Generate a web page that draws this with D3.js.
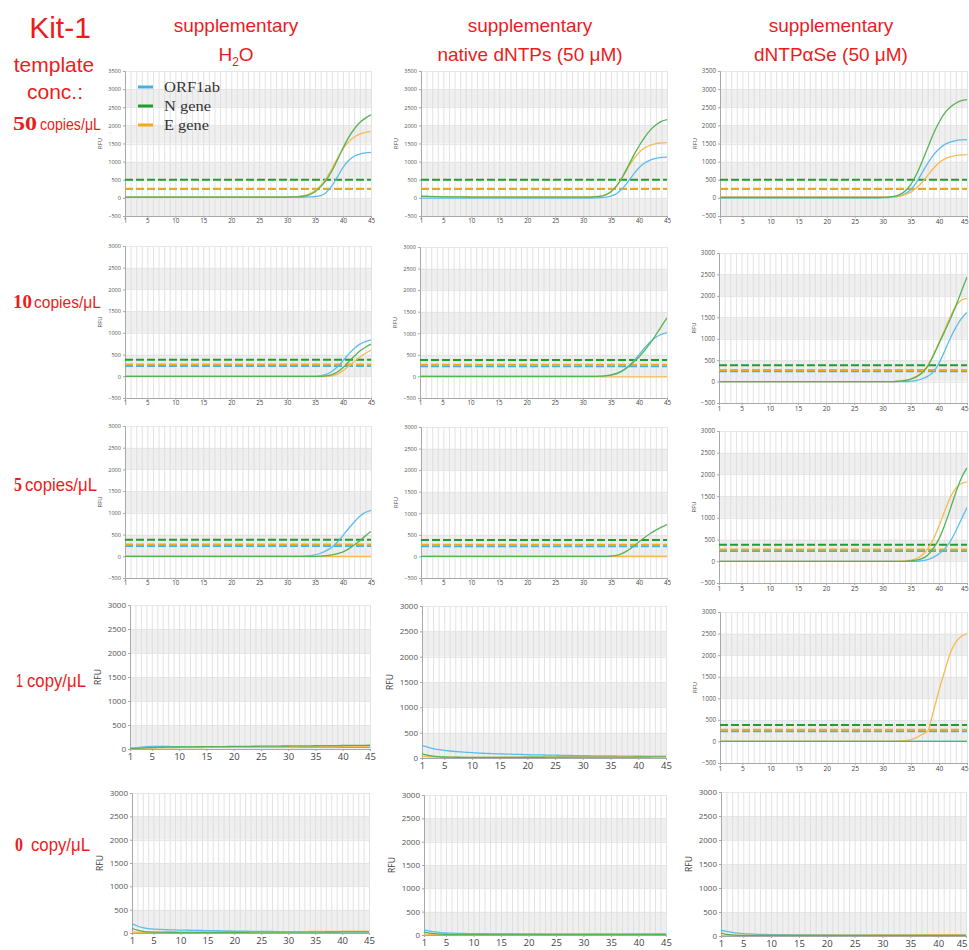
<!DOCTYPE html>
<html><head><meta charset="utf-8">
<script src="https://cdn.jsdelivr.net/npm/d3@7"></script>
<style>body{margin:0;background:#fff}svg{display:block}</style>
</head><body>
<svg id="c" width="969" height="950"></svg>
<script>
// ---------- DATA ----------
const cycles = [1,2,3,4,5,6,7,8,9,10,11,12,13,14,15,16,17,18,19,20,21,22,23,24,25,26,27,28,29,30,31,32,33,34,35,36,37,38,39,40,41,42,43,44,45];
const xTickValues = [1,5,10,15,20,25,30,35,40,45];
const seriesNames = ["ORF1ab","N gene","E gene"];
const columnTitles = [["supplementary","H2O"],["supplementary","native dNTPs (50 μM)"],["supplementary","dNTPαSe (50 μM)"]];
const rowNumbers = ["50","10","5","1","0"];
const rowUnits = ["copies/μL","copies/μL","copies/μL","copy/μL","copy/μL"];
const yDomainTall = [-500, 3500];
const yDomainMid = [-500, 3000];
const yDomainLow = [0, 3000];
const thresholds50 = [245, 500, 255];   // ORF1ab, N gene, E gene
const thresholdsLow = [238, 378, 272];

// Row 1: 50 copies/uL
const h2o50_ORF1ab = [20,20,20,20,20,20,20,20,20,20, 20,20,20,20,20,20,20,20,20,20, 20,20,20,20,20,20,20,20,20,20, 21,22,24,28,38,65,150,330,580,840, 1030,1150,1210,1240,1255];
const h2o50_N = [20,20,20,20,20,20,20,20,20,20, 20,20,20,20,20,20,20,20,20,20, 20,20,20,20,20,20,20,21,22,23, 25,30,45,90,170,310,490,740,1050,1380, 1670,1900,2080,2200,2290];
const h2o50_E = [28,28,28,28,28,28,28,28,28,28, 28,28,28,28,28,28,28,28,28,28, 28,28,28,28,28,28,28,28,29,30, 32,40,60,110,200,340,540,800,1090,1350, 1550,1680,1760,1810,1830];
const nat50_ORF1ab = [-5,-5,-5,-5,-5,-5,-5,-5,-5,-5, -5,-5,-5,-5,-5,-5,-5,-5,-5,-5, -5,-5,-5,-5,-5,-5,-5,-5,-5,-5, -4,-2,5,20,50,120,250,440,650,830, 960,1040,1090,1115,1125];
const nat50_N = [45,40,35,32,30,28,26,25,24,23, 22,22,21,21,20,20,20,20,20,20, 20,20,20,20,20,20,20,20,20,20, 22,26,40,80,170,330,570,860,1160,1430, 1670,1870,2010,2110,2160];
const nat50_E = [50,45,40,36,33,31,30,30,30,30, 30,30,30,30,30,30,30,30,30,30, 30,30,30,30,30,30,30,30,30,30, 30,32,45,90,180,340,560,820,1060,1250, 1380,1450,1495,1515,1525];
const se50_ORF1ab = [0,0,0,0,0,0,0,0,0,0, 0,0,0,0,0,0,0,0,0,0, 0,0,0,0,0,0,0,0,0,5, 10,25,50,110,230,430,690,950,1180,1350, 1470,1540,1580,1598,1605];
const se50_N = [10,10,10,10,10,10,10,10,10,10, 10,10,10,10,10,10,10,10,10,10, 10,10,10,10,10,10,10,10,10,12, 20,40,90,190,370,650,1000,1380,1760,2080, 2330,2500,2610,2680,2710];
const se50_E = [25,25,25,25,25,25,25,25,25,25, 25,25,25,25,25,25,25,25,25,25, 25,25,25,25,25,25,25,25,25,25, 27,35,50,90,160,270,430,620,810,970, 1070,1130,1165,1185,1195];

// Row 2: 10 copies/uL
const h2o10_ORF1ab = [0,0,0,0,0,0,0,0,0,0, 0,0,0,0,0,0,0,0,0,0, 0,0,0,0,0,0,0,0,0,0, 0,0,0,0,0,15,45,110,220,360, 510,640,740,800,840];
const h2o10_N = [0,0,0,0,0,0,0,0,0,0, 0,0,0,0,0,0,0,0,0,0, 0,0,0,0,0,0,0,0,0,0, 0,0,0,0,0,0,10,40,100,200, 330,460,580,670,740];
const h2o10_E = [-5,-5,-5,-5,-5,-5,-5,-5,-5,-5, -5,-5,-5,-5,-5,-5,-5,-5,-5,-5, -5,-5,-5,-5,-5,-5,-5,-5,-5,-5, -5,-5,-5,-5,-5,-5,-5,10,50,130, 230,340,440,530,600];
const nat10_ORF1ab = [0,0,0,0,0,0,0,0,0,0, 0,0,0,0,0,0,0,0,0,0, 0,0,0,0,0,0,0,0,0,0, 0,0,0,10,25,60,120,220,350,500, 660,800,910,975,1010];
const nat10_N = [0,0,0,0,0,0,0,0,0,0, 0,0,0,0,0,0,0,0,0,0, 0,0,0,0,0,0,0,0,0,0, 0,0,5,15,35,70,130,220,330,450, 600,770,960,1160,1360];
const nat10_E = [-10,-10,-10,-10,-10,-10,-10,-10,-10,-10, -10,-10,-10,-10,-10,-10,-10,-10,-10,-10, -10,-10,-10,-10,-10,-10,-10,-10,-10,-10, -10,-10,-10,-10,-10,-10,-10,-10,-10,-10, -10,-10,-10,-10,-10];
const se10_ORF1ab = [0,0,0,0,0,0,0,0,0,0, 0,0,0,0,0,0,0,0,0,0, 0,0,0,0,0,0,0,0,0,0, 0,0,0,0,10,25,60,120,220,420, 700,1000,1260,1470,1610];
const se10_N = [0,0,0,0,0,0,0,0,0,0, 0,0,0,0,0,0,0,0,0,0, 0,0,0,0,0,0,0,0,0,0, 0,0,10,25,55,110,200,350,600,880, 1160,1450,1760,2100,2440];
const se10_E = [0,0,0,0,0,0,0,0,0,0, 0,0,0,0,0,0,0,0,0,0, 0,0,0,0,0,0,0,0,0,0, 0,0,10,28,60,120,220,370,620,900, 1200,1500,1760,1900,1940];

// Row 3: 5 copies/uL
const h2o5_ORF1ab = [0,0,0,0,0,0,0,0,0,0, 0,0,0,0,0,0,0,0,0,0, 0,0,0,0,0,0,0,0,0,0, 0,0,5,15,35,70,130,210,330,480, 640,790,920,1010,1060];
const h2o5_N = [0,0,0,0,0,0,0,0,0,0, 0,0,0,0,0,0,0,0,0,0, 0,0,0,0,0,0,0,0,0,0, 0,0,0,0,0,5,15,30,60,100, 170,260,360,470,570];
const h2o5_E = [-5,-5,-5,-5,-5,-5,-5,-5,-5,-5, -5,-5,-5,-5,-5,-5,-5,-5,-5,-5, -5,-5,-5,-5,-5,-5,-5,-5,-5,-5, -5,-5,-5,-5,-5,-5,-5,-5,-5,-5, -5,-5,-5,-5,-5];
const nat5_ORF1ab = [0,0,0,0,0,0,0,0,0,0, 0,0,0,0,0,0,0,0,0,0, 0,0,0,0,0,0,0,0,0,0, 0,0,0,0,0,0,0,0,0,0, 0,0,0,0,0];
const nat5_N = [0,0,0,0,0,0,0,0,0,0, 0,0,0,0,0,0,0,0,0,0, 0,0,0,0,0,0,0,0,0,0, 0,0,0,0,10,25,70,140,230,340, 440,530,610,680,740];
const nat5_E = [-5,-5,-5,-5,-5,-5,-5,-5,-5,-5, -5,-5,-5,-5,-5,-5,-5,-5,-5,-5, -5,-5,-5,-5,-5,-5,-5,-5,-5,-5, -5,-5,-5,-5,-5,-5,-5,-5,-5,-5, -5,-5,-5,-5,-5];
const se5_ORF1ab = [0,0,0,0,0,0,0,0,0,0, 0,0,0,0,0,0,0,0,0,0, 0,0,0,0,0,0,0,0,0,0, 0,0,0,0,0,0,15,40,90,170, 280,450,690,970,1240];
const se5_N = [0,0,0,0,0,0,0,0,0,0, 0,0,0,0,0,0,0,0,0,0, 0,0,0,0,0,0,0,0,0,0, 0,0,0,0,10,25,60,140,290,510, 820,1190,1580,1920,2150];
const se5_E = [0,0,0,0,0,0,0,0,0,0, 0,0,0,0,0,0,0,0,0,0, 0,0,0,0,0,0,0,0,0,0, 0,0,0,10,25,60,140,280,500,800, 1140,1460,1680,1790,1830];

// Row 4: 1 copy/uL
const h2o1_ORF1ab = [10,25,40,50,55,55,55,52,50,48, 47,46,45,45,44,44,43,43,42,42, 41,41,40,40,40,39,39,38,38,38, 37,37,36,36,36,35,35,35,34,34, 34,33,33,33,32];
const h2o1_N = [10,15,20,25,30,33,36,38,40,42, 43,45,46,47,48,49,50,51,52,53, 54,55,56,57,58,59,60,61,62,63, 64,65,66,67,68,69,70,71,72,73, 74,75,76,77,78];
const h2o1_E = [5,10,15,18,20,22,24,25,26,27, 28,29,30,31,32,33,34,35,36,37, 38,38,39,40,41,42,43,44,45,46, 47,48,48,49,50,51,52,52,53,54, 55,55,56,57,58];
const nat1_ORF1ab = [250,215,185,165,150,138,128,120,112,105, 99,94,89,85,81,78,75,72,69,66, 63,61,59,57,55,53,51,49,47,45, 44,43,42,41,40,39,38,37,36,35, 34,33,32,32,31];
const nat1_N = [80,55,38,27,20,17,15,14,13,13, 13,13,13,13,13,14,14,14,14,15, 15,15,15,16,16,16,16,17,17,17, 17,18,18,18,18,19,19,19,19,20, 20,20,21,21,21];
const nat1_E = [40,30,22,17,14,12,11,11,11,12, 12,13,13,14,14,15,15,16,16,17, 17,18,18,19,19,20,20,21,21,22, 22,23,23,24,25,26,27,28,29,30, 31,32,33,34,35];
const se1_ORF1ab = [0,0,0,0,0,0,0,0,0,0, 0,0,0,0,0,0,0,0,0,0, 0,0,0,0,0,0,0,0,0,0, 0,0,0,0,0,0,0,0,0,0, 0,0,0,0,0];
const se1_N = [0,0,0,0,0,0,0,0,0,0, 0,0,0,0,0,0,0,0,0,0, 0,0,0,0,0,0,0,0,0,0, 0,0,0,0,0,0,0,0,0,0, 0,0,0,0,0];
const se1_E = [0,0,0,0,0,0,0,0,0,0, 0,0,0,0,0,0,0,0,0,0, 0,0,0,0,0,0,0,0,0,0, 0,0,10,20,40,90,160,240,690,1180, 1620,2040,2300,2440,2500];

// Row 5: 0 copy/uL
const h2o0_ORF1ab = [200,150,115,95,85,78,72,68,65,62, 60,58,56,54,52,50,48,46,44,42, 40,38,36,35,34,33,32,31,30,30, 29,29,28,28,28,27,27,27,26,26, 26,26,25,25,25];
const h2o0_N = [100,60,35,25,20,18,17,16,16,15, 15,15,15,15,15,15,15,16,16,16, 16,16,17,17,17,17,18,18,18,18, 19,19,19,20,20,20,21,21,21,22, 22,22,23,23,24];
const h2o0_E = [20,15,12,12,12,12,13,13,14,14, 15,15,16,16,17,17,18,18,19,19, 20,21,21,22,23,24,25,26,27,28, 29,30,31,32,33,34,35,35,36,37, 37,38,39,39,40];
const nat0_ORF1ab = [110,85,65,52,45,40,36,33,31,29, 28,27,26,25,24,23,23,22,22,21, 21,21,20,20,20,20,19,19,19,19, 19,18,18,18,18,18,18,17,17,17, 17,17,17,17,17];
const nat0_N = [60,40,28,20,16,14,13,12,12,12, 12,12,12,12,12,12,12,12,12,12, 12,12,12,12,12,12,12,12,12,12, 12,12,12,12,12,12,12,12,12,12, 12,12,12,12,12];
const nat0_E = [20,15,12,11,11,11,12,12,12,13, 13,13,14,14,14,15,15,16,16,16, 17,17,18,18,19,19,20,20,21,21, 22,22,23,23,24,24,25,26,26,27, 27,28,28,29,30];
const se0_ORF1ab = [120,95,75,60,50,44,39,35,32,30, 28,27,26,25,24,23,22,22,21,21, 21,20,20,20,20,19,19,19,19,19, 18,18,18,18,18,18,18,18,18,18, 18,18,18,18,18];
const se0_N = [60,35,22,15,12,10,10,10,10,10, 10,10,10,10,10,10,10,10,10,10, 10,10,10,10,10,10,10,10,10,10, 10,10,10,10,10,10,10,10,10,10, 10,10,10,10,10];
const se0_E = [10,10,10,10,10,11,11,11,12,12, 12,13,13,14,14,15,15,16,16,17, 17,18,18,19,19,20,20,21,21,22, 22,23,23,24,24,25,25,26,26,27, 27,28,28,29,30];

// ---------- assemble ----------
const panelSeries = [
  [[h2o50_ORF1ab,h2o50_N,h2o50_E],[nat50_ORF1ab,nat50_N,nat50_E],[se50_ORF1ab,se50_N,se50_E]],
  [[h2o10_ORF1ab,h2o10_N,h2o10_E],[nat10_ORF1ab,nat10_N,nat10_E],[se10_ORF1ab,se10_N,se10_E]],
  [[h2o5_ORF1ab,h2o5_N,h2o5_E],[nat5_ORF1ab,nat5_N,nat5_E],[se5_ORF1ab,se5_N,se5_E]],
  [[h2o1_ORF1ab,h2o1_N,h2o1_E],[nat1_ORF1ab,nat1_N,nat1_E],[se1_ORF1ab,se1_N,se1_E]],
  [[h2o0_ORF1ab,h2o0_N,h2o0_E],[nat0_ORF1ab,nat0_N,nat0_E],[se0_ORF1ab,se0_N,se0_E]]
];
const panelDomains = [
  [yDomainTall,yDomainTall,yDomainTall],
  [yDomainMid,yDomainMid,yDomainMid],
  [yDomainMid,yDomainMid,yDomainMid],
  [yDomainLow,yDomainLow,yDomainMid],
  [yDomainLow,yDomainLow,yDomainLow]
];
const panelThresholds = [
  [thresholds50,thresholds50,thresholds50],
  [thresholdsLow,thresholdsLow,thresholdsLow],
  [thresholdsLow,thresholdsLow,thresholdsLow],
  [null,null,thresholdsLow],
  [null,null,null]
];

// ---------- layout (positions/styles) ----------
const layout = [
  [{L:125,R:371,T:71,B:216},{L:421,R:667,T:71,B:216},{L:720,R:967,T:71,B:216}],
  [{L:125,R:371,T:246,B:398},{L:420,R:667,T:247,B:398},{L:719,R:967,T:253,B:403}],
  [{L:125,R:371,T:426,B:578},{L:421,R:667,T:427,B:578},{L:719,R:967,T:431,B:583}],
  [{L:130,R:370,T:605,B:749},{L:422,R:666,T:606,B:758},{L:720,R:967,T:612,B:763}],
  [{L:132,R:369,T:793,B:933},{L:424,R:666,T:795,B:935},{L:721,R:966,T:792,B:936}]
];
const bigStyle = [[0,0,0],[0,0,0],[0,0,0],[1,1,0],[1,1,1]];
const curveColors = ["#5cbdec","#55b356","#f6bb50"];
const dashColors = ["#44b0e6","#1e9e30","#f2aa1c"];
const RED = "#ec1c1c";

const svg = d3.select("#c");
const defs = svg.append("defs");

// helper: squeeze text horizontally to a target width with a real transform
function fitText(sel, x, y, width) {
  const natural = sel.node().getComputedTextLength();
  const sx = natural > 0 ? width / natural : 1;
  sel.attr("x", null).attr("y", null)
     .attr("transform", `translate(${x},${y}) scale(${sx},1)`);
}

panelSeries.forEach((rowArr, r) => {
  rowArr.forEach((series, c) => {
    const box = layout[r][c];
    const big = bigStyle[r][c];
    const dom = panelDomains[r][c];
    const x = d3.scaleLinear().domain([1,45]).range([box.L, box.R]);
    const y = d3.scaleLinear().domain(dom).range([box.B, box.T]);
    const g = svg.append("g");
    const id = `clip${r}${c}`;
    defs.append("clipPath").attr("id", id).append("rect")
      .attr("x", box.L).attr("y", box.T).attr("width", box.R-box.L).attr("height", box.B-box.T);

    // bands
    const yTicks = d3.range(dom[0], dom[1]+1, 500);
    const bandStarts = d3.range(dom[1], dom[0], -500);
    bandStarts.forEach((top, i) => {
      if (i % 2 === 1) {
        g.append("rect").attr("x", box.L).attr("width", box.R-box.L)
          .attr("y", y(top)).attr("height", y(top-500)-y(top)).attr("fill", "#efefef");
      }
    });
    // vertical grid lines
    g.append("g").selectAll("line").data(cycles.slice(1)).join("line")
      .attr("x1", d => x(d)+0.5).attr("x2", d => x(d)+0.5)
      .attr("y1", box.T).attr("y2", box.B)
      .attr("stroke", "#dadada").attr("stroke-width", 0.8);
    // horizontal grid
    g.append("g").selectAll("line").data(yTicks).join("line")
      .attr("x1", box.L).attr("x2", box.R)
      .attr("y1", d => Math.round(y(d))+0.5).attr("y2", d => Math.round(y(d))+0.5)
      .attr("stroke", "#e2e2e2").attr("stroke-width", 0.8);

    // axes
    const fsY = big ? 8 : (c === 2 ? 6.2 : 5.6);
    const fsX = big ? 9.5 : (c === 2 ? 6.6 : 6.2);
    const yAxis = d3.axisLeft(y).tickValues(yTicks).tickFormat(d3.format("d")).tickSize(2).tickPadding(2);
    const ya = g.append("g").attr("transform", `translate(${box.L},0)`).call(yAxis);
    ya.select(".domain").attr("stroke", "#a8a8a8");
    ya.selectAll(".tick line").attr("stroke", "#a8a8a8");
    ya.selectAll("text").attr("font-family", "'Open Sans', sans-serif").attr("font-size", fsY).attr("fill", "#555");
    const xAxis = d3.axisBottom(x).tickValues(xTickValues).tickFormat(d3.format("d")).tickSize(2).tickPadding(big ? 2 : 1);
    const xa = g.append("g").attr("transform", `translate(0,${box.B})`).call(xAxis);
    xa.select(".domain").attr("stroke", "#a8a8a8");
    xa.selectAll(".tick line").attr("stroke", "#a8a8a8");
    xa.selectAll("text").attr("font-family", "'Open Sans', sans-serif").attr("font-size", fsX).attr("fill", "#444");
    // keep the last label inside the page at the right edge
    if (c === 2) {
      xa.selectAll(".tick").filter(d => d === 45).select("text").attr("text-anchor", "end").attr("dx", 1);
    }

    // RFU label
    g.append("text").attr("transform", `translate(${box.L - (big ? 31 : 25)},${(box.T+box.B)/2}) rotate(-90)`)
      .attr("text-anchor", "middle").attr("dominant-baseline", "middle")
      .attr("font-family", "'Open Sans', sans-serif").attr("font-size", big ? 8.5 : 5.8)
      .attr("fill", "#444").text("RFU");

    const inner = g.append("g").attr("clip-path", `url(#${id})`);
    // thresholds
    const thr = panelThresholds[r][c];
    if (thr) {
      [0,2,1].forEach(k => {
        inner.append("line").attr("x1", box.L).attr("x2", box.R)
          .attr("y1", y(thr[k])).attr("y2", y(thr[k]))
          .attr("stroke", dashColors[k]).attr("stroke-width", 2)
          .attr("stroke-dasharray", "8,3");
      });
    }
    // curves
    const line = d3.line().x((d,i) => x(cycles[i])).y(d => y(d)).curve(d3.curveMonotoneX);
    [0,2,1].forEach(k => {
      inner.append("path").datum(series[k]).attr("d", line)
        .attr("fill", "none").attr("stroke", curveColors[k]).attr("stroke-width", 1.3);
    });
  });
});

// legend in first panel
const legY = [87, 106, 125];
const legW = [56, 47, 45];
seriesNames.forEach((n, i) => {
  svg.append("line").attr("x1", 138).attr("x2", 153).attr("y1", legY[i]).attr("y2", legY[i])
    .attr("stroke", dashColors[i]).attr("stroke-width", 3);
  const t = svg.append("text").attr("dominant-baseline", "central")
    .attr("font-family", "'Liberation Serif', 'Times New Roman', serif").attr("font-size", 15)
    .attr("fill", "#333").text(n);
  fitText(t, 164, legY[i], legW[i]);
});

// Titles
const sans = "'Liberation Sans', Arial, sans-serif";
svg.append("text").attr("x", 60).attr("y", 38).attr("text-anchor", "middle")
  .attr("font-family", sans).attr("font-size", 30).attr("fill", RED).text("Kit-1");
svg.append("text").attr("x", 54).attr("y", 72).attr("text-anchor", "middle")
  .attr("font-family", sans).attr("font-size", 21).attr("fill", RED).text("template");
svg.append("text").attr("x", 55).attr("y", 99).attr("text-anchor", "middle")
  .attr("font-family", sans).attr("font-size", 21).attr("fill", RED).text("conc.:");

const colCenters = [236, 530, 831];
columnTitles.forEach((t, i) => {
  svg.append("text").attr("x", colCenters[i]).attr("y", 32).attr("text-anchor", "middle")
    .attr("font-family", sans).attr("font-size", 19).attr("fill", RED).text(t[0]);
  const t2 = svg.append("text").attr("x", colCenters[i]).attr("y", 61).attr("text-anchor", "middle")
    .attr("font-family", sans).attr("font-size", 19).attr("fill", RED);
  if (t[1] === "H2O") {
    t2.append("tspan").text("H");
    t2.append("tspan").attr("font-size", 12).attr("dy", 5).text("2");
    t2.append("tspan").attr("dy", -5).text("O");
  } else {
    t2.text(t[1]);
  }
});

// Row labels
const rowLabelPos = [
  {y:130, nx:13, nw:24, ux:40, uw:61, fs:17},
  {y:308, nx:13, nw:19, ux:34, uw:67, fs:17},
  {y:491, nx:14, nw:8, ux:25, uw:72, fs:18},
  {y:687, nx:16, nw:7, ux:27, uw:59, fs:18},
  {y:851, nx:15, nw:8, ux:31, uw:59, fs:18}
];
rowNumbers.forEach((n, i) => {
  const p = rowLabelPos[i];
  const serifNum = i !== 3;
  const tn = svg.append("text")
    .attr("font-family", serifNum ? "'Liberation Serif', 'Times New Roman', serif" : sans)
    .attr("font-weight", serifNum ? "bold" : "normal")
    .attr("font-size", 19).attr("fill", RED).text(n);
  fitText(tn, p.nx, p.y, p.nw);
  const tu = svg.append("text")
    .attr("font-family", sans).attr("font-size", p.fs).attr("fill", RED).text(rowUnits[i]);
  fitText(tu, p.ux, p.y, p.uw);
});
</script>
</body></html>
